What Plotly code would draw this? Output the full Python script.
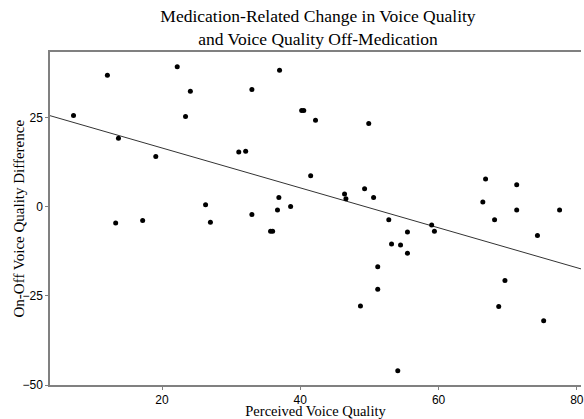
import numpy as np
import plotly.graph_objects as go

perceived_quality = [7.2, 12.1, 13.7, 19.1, 22.2, 24.1, 23.4, 31.1, 32.1, 26.3, 27.0, 13.3, 17.2,
                     37.0, 33.0, 40.2, 40.5, 42.2, 49.9, 41.5, 36.9, 33.0, 36.7, 38.6, 46.4, 46.6,
                     49.3, 50.6, 52.8, 59.0, 59.4, 35.7, 36.0, 55.5, 53.2, 54.5, 55.5, 51.2, 51.2,
                     48.7, 54.1, 66.8, 71.3, 66.4, 71.3, 77.5, 68.1, 74.3, 69.6, 68.7, 75.2]
on_off_difference = [25.5, 36.8, 19.1, 14.0, 39.2, 32.3, 25.2, 15.3, 15.5, 0.5, -4.4, -4.6, -3.9,
                     38.2, 32.8, 26.9, 26.9, 24.2, 23.3, 8.6, 2.5, -2.2, -1.0, 0.0, 3.5, 2.2,
                     5.0, 2.5, -3.7, -5.2, -6.9, -6.9, -6.9, -7.1, -10.5, -10.8, -13.1, -16.9, -23.2,
                     -27.9, -46.0, 7.7, 6.1, 1.3, -1.0, -1.0, -3.7, -8.1, -20.7, -28.0, -32.0]

x_ticks = [20, 40, 60, 80]
y_ticks = [-50, -25, 0, 25]

x_arr = np.array(perceived_quality)
y_arr = np.array(on_off_difference)
slope, intercept = np.polyfit(x_arr, y_arr, 1)
x_range = [3.8, 80.6]
y_range = [-50, 43.3]
fit_x = np.array(x_range)
fit_y = intercept + slope * fit_x

fig = go.Figure()
fig.add_trace(go.Scatter(x=fit_x, y=fit_y, mode="lines",
                         line=dict(color="#333333", width=1), hoverinfo="skip"))
fig.add_trace(go.Scatter(x=perceived_quality, y=on_off_difference, mode="markers",
                         marker=dict(color="black", size=5)))

serif = "Liberation Serif, Times New Roman, serif"
tickfont = dict(family="Liberation Sans Narrow, Arial Narrow, Liberation Sans, sans-serif", size=12, color="black")

fig.update_layout(
    width=584, height=419,
    margin=dict(l=50, r=0, t=52, b=34),
    paper_bgcolor="white", plot_bgcolor="white",
    showlegend=False, hovermode=False,
    title=dict(text="Medication-Related Change in Voice Quality<br>and Voice Quality Off-Medication",
               x=0.5445, xanchor="center", y=0.9475, yanchor="top",
               font=dict(family=serif, size=17.5, color="black")),
    annotations=[dict(text="On-Off Voice Quality Difference", textangle=-90,
                      xref="paper", yref="paper", x=0, y=0.50, xanchor="center", yanchor="middle",
                      xshift=-32, showarrow=False,
                      font=dict(family=serif, size=15, color="black"))],
)
fig.update_xaxes(range=x_range, tickvals=x_ticks, showgrid=False, zeroline=False,
                 showline=True, linecolor="#808080", linewidth=1.5, mirror=True,
                 ticks="outside", ticklen=3, tickcolor="#808080", tickfont=tickfont,
                 ticklabeloverflow="allow",
                 title=dict(text="Perceived Voice Quality", font=dict(family=serif, size=14.5, color="black"), standoff=0))
fig.update_yaxes(range=y_range, tickvals=y_ticks, showgrid=False, zeroline=False,
                 showline=True, linecolor="#808080", linewidth=1.5, mirror=False,
                 ticks="outside", ticklen=3, tickcolor="#808080", tickfont=tickfont)

fig.write_html("out.html", config={"displayModeBar": False},
               post_script="document.body.style.margin='0';document.documentElement.style.overflow='hidden';")
